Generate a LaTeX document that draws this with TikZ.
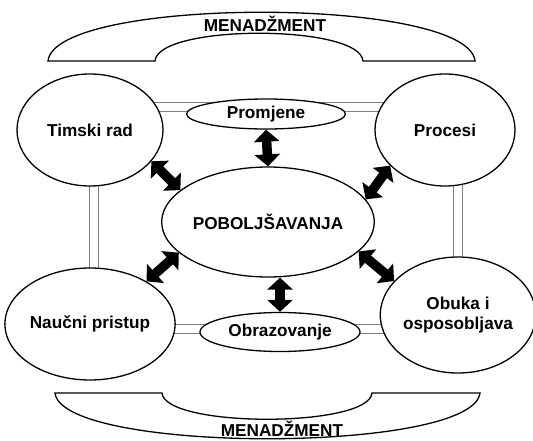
\documentclass[tikz,border=0pt]{standalone}
\usepackage{fontspec}
\setmainfont{Liberation Sans}
\usetikzlibrary{shapes.geometric,arrows.meta,backgrounds}
\begin{document}
\begin{tikzpicture}[x=1pt, y=-1pt, line width=1.3pt, font=\fontsize{17.2}{19.5}\selectfont\bfseries,
  main/.style = {draw, ellipse, fill=white, inner sep=0pt, align=center},
  dbl/.style = {draw=gray, line width=0.9pt, double=white, double distance=7.5pt},
  arr/.style = {{Triangle[width=25pt,length=12pt]}-{Triangle[width=25pt,length=12pt]}, line width=9.5pt}]
  \useasboundingbox (0,0) rectangle (533,441);
  % banners
  \draw (48,61) -- (155,61) .. controls (158,24) and (360,24) .. (363,61) -- (475,61)
    .. controls (468,-4) and (55,-4) .. cycle;
  \node (top) at (265,24) {MENADŽMENT};
  \draw (55,393) -- (162,393) .. controls (165,428) and (369,428) .. (372,393) -- (480,393)
    .. controls (473,454) and (62,454) .. cycle;
  \node (bot) at (282,429) {MENADŽMENT};
  % ellipses
  \node[main, minimum width=166pt, minimum height=110pt] (pob) at (268,222) {POBOLJŠAVANJA};
  \node[main, minimum width=146pt, minimum height=112pt] (timski) at (90,130) {Timski rad};
  \node[main, minimum width=140pt, minimum height=112pt] (procesi) at (445,130) {Procesi};
  \node[main, minimum width=154pt, minimum height=112pt] (naucni) at (90,324) {Naučni pristup};
  \node[main, minimum width=149pt, minimum height=116pt] (obuka) at (458,315) {Obuka i\\osposobljava};
  \node[main, minimum width=159pt, minimum height=30pt] (prom) at (266,114) {Promjene};
  \node[main, minimum width=160pt, minimum height=39pt] (obr) at (280,332) {Obrazovanje};
  % frame
  \begin{scope}[on background layer]
    \draw[dbl] ([yshift=23pt]timski.center) -- ([yshift=23pt]procesi.center);
    \draw[dbl] ([xshift=4pt]timski.center) -- ([xshift=4pt]naucni.center);
    \draw[dbl] (procesi -| obuka) -- (obuka);
    \draw[dbl] ([yshift=-5pt]naucni.center) -- ([yshift=-5pt]naucni.center -| obuka.center);
  \end{scope}
  % arrows
  \draw[arr] (timski.-27) -- (pob.160);
  \draw[arr] (procesi.213) -- (pob.13);
  \draw[arr] (naucni.37) -- (pob.199);
  \draw[arr] (obuka.152) -- (pob.-18);
  \draw[arr] (prom.south) -- (pob.north);
  \draw[arr] (pob.south -| obr.north) -- (obr.north);
\end{tikzpicture}
\end{document}
